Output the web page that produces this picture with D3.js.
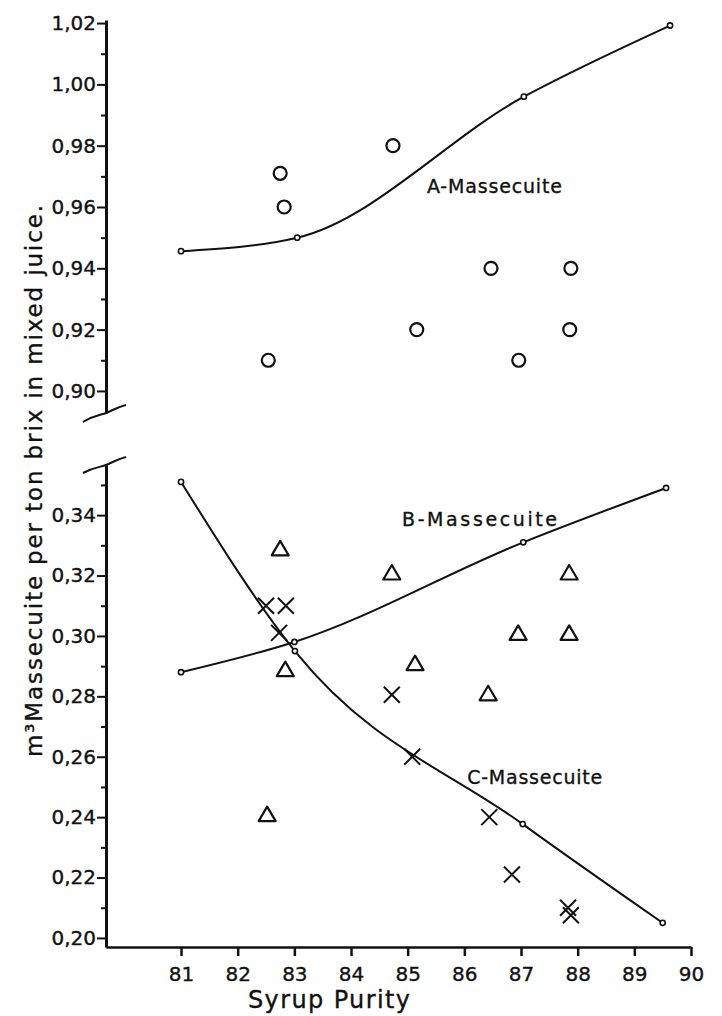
<!DOCTYPE html>
<html>
<head>
    <meta charset="utf-8">
    <title>Massecuite per ton brix vs Syrup Purity</title>
    <script src="https://d3js.org/d3.v7.min.js"></script>
    <style>
        body { margin: 0; background: #fff; }
        text { font-family: "DejaVu Sans", sans-serif; fill: #111; stroke: #111; stroke-width: 0.35px; }
    </style>
</head>
<body>
    <script>

        // ---- data ----
        var xTicks = [81, 82, 83, 84, 85, 86, 87, 88, 89, 90];
        var yTopTicks = [0.90, 0.92, 0.94, 0.96, 0.98, 1.00, 1.02];
        var yTopMinor = [0.89, 0.91, 0.93, 0.95, 0.97, 0.99, 1.01];
        var yBotTicks = [0.20, 0.22, 0.24, 0.26, 0.28, 0.30, 0.32, 0.34];
        var yBotMinor = [0.21, 0.23, 0.25, 0.27, 0.29, 0.31, 0.33, 0.35];

        // A-Massecuite (circles) and its fitted curve
        var aPoints = [[82.75, 0.971], [82.82, 0.960], [82.54, 0.910], [84.74, 0.980], [86.47, 0.940],
                       [87.88, 0.940], [85.16, 0.920], [87.86, 0.920], [86.96, 0.910]];
        var aCurve = [[81.0, 0.9456], [83.05, 0.950], [87.05, 0.996], [89.63, 1.0192]];

        // B-Massecuite (triangles)
        var bPoints = [[82.75, 0.329], [82.84, 0.289], [84.72, 0.321], [87.85, 0.321], [86.95, 0.301],
                       [87.85, 0.301], [85.13, 0.291], [86.42, 0.281], [82.52, 0.241]];
        var bCurve = [[81.0, 0.288], [83.0, 0.298], [87.04, 0.331], [89.56, 0.349]];

        // C-Massecuite (crosses)
        var cPoints = [[82.50, 0.310], [82.85, 0.310], [82.73, 0.301], [84.72, 0.2805], [85.08, 0.260],
                       [86.44, 0.240], [86.84, 0.221], [87.83, 0.210], [87.88, 0.2075]];
        var cCurve = [[81.0, 0.351], [83.01, 0.295], [87.03, 0.2377], [89.5, 0.205]];

        var labels = [
            { text: "A-Massecuite", x: 85.34, y: 0.9646, panel: "top", len: 135 },
            { text: "B-Massecuite", x: 84.90, y: 0.3364, panel: "bot", len: 155 },
            { text: "C-Massecuite", x: 86.05, y: 0.2510, panel: "bot", len: 135 }
        ];

        var width = 722, height = 1016;

        var svg = d3.select("body")
            .append("svg")
            .attr("width", width)
            .attr("height", height);

        var x = d3.scaleLinear().domain([79.676, 90]).range([106, 691]);
        var yTop = d3.scaleLinear().domain([0.8928, 1.021]).range([413, 20]);
        var yBot = d3.scaleLinear().domain([0.197, 0.3566]).range([947, 465]);

        var fmt = function(d) { return d3.format(".2f")(d).replace(".", ","); };

        function drawYAxis(scale, major, minor) {
            var g = svg.append("g")
                .attr("transform", "translate(106,0)")
                .call(d3.axisLeft(scale).tickValues(major).tickFormat(fmt)
                    .tickSize(9).tickPadding(1).tickSizeOuter(0));
            g.select(".domain").attr("stroke", "#111").attr("stroke-width", 3);
            g.selectAll(".tick line").attr("stroke", "#111").attr("stroke-width", 2);
            g.selectAll(".tick text").style("font-size", "20px");

            var m = svg.append("g")
                .attr("transform", "translate(106,0)")
                .call(d3.axisLeft(scale).tickValues(minor.filter(function(v) {
                    return v > scale.domain()[0] && v < scale.domain()[1];
                })).tickFormat("").tickSize(5).tickSizeOuter(0));
            m.select(".domain").remove();
            m.selectAll(".tick line").attr("stroke", "#111").attr("stroke-width", 2);
        }

        drawYAxis(yTop, yTopTicks, yTopMinor);
        drawYAxis(yBot, yBotTicks, yBotMinor);

        var gx = svg.append("g")
            .attr("transform", "translate(0,947)")
            .call(d3.axisBottom(x).tickValues(xTicks).tickFormat(d3.format("d"))
                .tickSize(9).tickPadding(11).tickSizeOuter(0));
        gx.select(".domain").attr("stroke", "#111").attr("stroke-width", 2.5);
        gx.selectAll(".tick line").attr("stroke", "#111").attr("stroke-width", 2.5);
        gx.selectAll(".tick text").style("font-size", "20px");

        // axis break marks
        [yTop.range()[0], yBot.range()[1]].forEach(function(py, i) {
            var off = i === 0 ? 0 : -1;
            svg.append("path")
                .attr("d", "M" + (106 - 23) + "," + (py + 9 + off) +
                    " C" + (106 - 12) + "," + (py + 2) + " " + (106 - 5) + "," + (py + 2) +
                    " " + 106 + "," + py +
                    " S" + (106 + 12) + "," + (py - 6) + " " + (106 + 20) + "," + (py - 8))
                .attr("fill", "none")
                .attr("stroke", "#111")
                .attr("stroke-width", 2);
        });

        var line = function(ys) {
            return d3.line()
                .x(function(d) { return x(d[0]); })
                .y(function(d) { return ys(d[1]); })
                .curve(d3.curveMonotoneX);
        };

        function drawCurve(data, ys) {
            svg.append("path")
                .datum(data)
                .attr("d", line(ys))
                .attr("fill", "none")
                .attr("stroke", "#111")
                .attr("stroke-width", 2);
            svg.append("g").selectAll("circle")
                .data(data)
                .join("circle")
                .attr("cx", function(d) { return x(d[0]); })
                .attr("cy", function(d) { return ys(d[1]); })
                .attr("r", 2.6)
                .attr("fill", "#fff")
                .attr("stroke", "#111")
                .attr("stroke-width", 1.6);
        }

        drawCurve(aCurve, yTop);
        drawCurve(bCurve, yBot);
        drawCurve(cCurve, yBot);

        // circles
        svg.append("g").selectAll("circle")
            .data(aPoints)
            .join("circle")
            .attr("cx", function(d) { return x(d[0]); })
            .attr("cy", function(d) { return yTop(d[1]); })
            .attr("r", 6.5)
            .attr("fill", "none")
            .attr("stroke", "#111")
            .attr("stroke-width", 2.2);

        // triangles
        svg.append("g").selectAll("path")
            .data(bPoints)
            .join("path")
            .attr("transform", function(d) { return "translate(" + x(d[0]) + "," + yBot(d[1]) + ")"; })
            .attr("d", "M0,-7.5 L8.5,7 L-8.5,7 Z")
            .attr("fill", "none")
            .attr("stroke", "#111")
            .attr("stroke-width", 2.2)
            .attr("stroke-linejoin", "round");

        // crosses
        svg.append("g").selectAll("path")
            .data(cPoints)
            .join("path")
            .attr("transform", function(d) { return "translate(" + x(d[0]) + "," + yBot(d[1]) + ")"; })
            .attr("d", "M-8,-8 L8,8 M8,-8 L-8,8")
            .attr("fill", "none")
            .attr("stroke", "#111")
            .attr("stroke-width", 2);

        // series labels
        svg.append("g").selectAll("text")
            .data(labels)
            .join("text")
            .attr("x", function(d) { return x(d.x); })
            .attr("y", function(d) { return (d.panel === "top" ? yTop : yBot)(d.y); })
            .attr("textLength", function(d) { return d.len; })
            .attr("lengthAdjust", "spacing")
            .style("font-size", "19px")
            .text(function(d) { return d.text; });

        // axis titles
        svg.append("text")
            .attr("x", 248)
            .attr("y", 1008)
            .attr("textLength", 162)
            .attr("lengthAdjust", "spacing")
            .style("font-size", "24px")
            .text("Syrup  Purity");

        svg.append("text")
            .attr("transform", "translate(42,757) rotate(-90)")
            .attr("x", 0)
            .attr("y", 0)
            .attr("textLength", 552)
            .attr("lengthAdjust", "spacing")
            .style("font-size", "23px")
            .text("m³Massecuite  per  ton  brix  in  mixed  juice.");

    </script>
</body>
</html>
